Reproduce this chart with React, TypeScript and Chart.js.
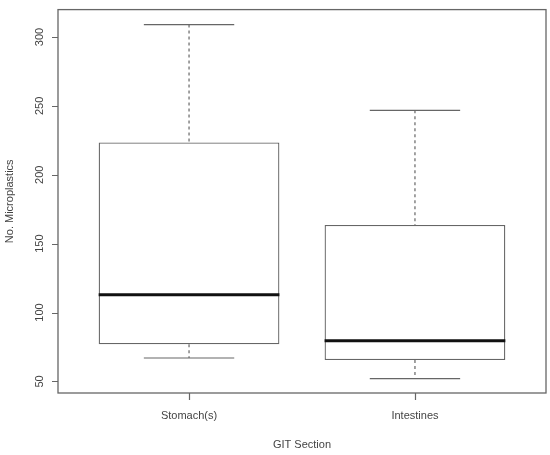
import React, { useEffect, useRef } from "react";
import { Chart, registerables } from "chart.js";

Chart.register(...registerables);

const categories = ["Stomach(s)", "Intestines"];
const whiskerMin = [67, 52];
const q1 = [77, 65.5];
const median = [113, 79.5];
const q3 = [223.5, 163.5];
const whiskerMax = [309, 246.8];
const yTicks = [50, 100, 150, 200, 250, 300];

const FONT = "'Liberation Sans', Arial, sans-serif";
const GREY = "#666666";
const TEXT = "#444444";

const boxPlugin = {
  id: "boxplotExtras",
  afterDatasetsDraw(chart: any) {
    const { ctx } = chart;
    const xs = chart.scales.x;
    const ys = chart.scales.y;
    ctx.save();
    categories.forEach((_, i) => {
      const pos = i + 1;
      const cx = xs.getPixelForValue(pos);
      const capL = xs.getPixelForValue(pos - 0.2);
      const capR = xs.getPixelForValue(pos + 0.2);
      const boxL = xs.getPixelForValue(pos - 0.4);
      const boxR = xs.getPixelForValue(pos + 0.4);
      ctx.strokeStyle = GREY;
      ctx.lineWidth = 1.2;
      ctx.setLineDash([3, 3]);
      ctx.beginPath();
      ctx.moveTo(cx, ys.getPixelForValue(whiskerMax[i]));
      ctx.lineTo(cx, ys.getPixelForValue(q3[i]));
      ctx.moveTo(cx, ys.getPixelForValue(q1[i]));
      ctx.lineTo(cx, ys.getPixelForValue(whiskerMin[i]));
      ctx.stroke();
      ctx.setLineDash([]);
      ctx.beginPath();
      ctx.moveTo(capL, ys.getPixelForValue(whiskerMax[i]));
      ctx.lineTo(capR, ys.getPixelForValue(whiskerMax[i]));
      ctx.moveTo(capL, ys.getPixelForValue(whiskerMin[i]));
      ctx.lineTo(capR, ys.getPixelForValue(whiskerMin[i]));
      ctx.stroke();
      ctx.strokeStyle = "#111111";
      ctx.lineWidth = 3;
      ctx.beginPath();
      ctx.moveTo(boxL, ys.getPixelForValue(median[i]));
      ctx.lineTo(boxR, ys.getPixelForValue(median[i]));
      ctx.stroke();
    });
    ctx.restore();
  },
  afterDraw(chart: any) {
    const { ctx, chartArea } = chart;
    const xs = chart.scales.x;
    const ys = chart.scales.y;
    ctx.save();
    ctx.setLineDash([]);
    ctx.strokeStyle = GREY;
    ctx.lineWidth = 1.3;
    ctx.strokeRect(chartArea.left, chartArea.top, chartArea.right - chartArea.left, chartArea.bottom - chartArea.top);
    ctx.lineWidth = 1.2;
    ctx.beginPath();
    categories.forEach((_, i) => {
      const px = Math.round(xs.getPixelForValue(i + 1)) + 0.5;
      ctx.moveTo(px, chartArea.bottom);
      ctx.lineTo(px, chartArea.bottom + 7);
    });
    yTicks.forEach((v) => {
      const py = Math.round(ys.getPixelForValue(v)) + 0.5;
      ctx.moveTo(chartArea.left, py);
      ctx.lineTo(chartArea.left - 6, py);
    });
    ctx.stroke();
    ctx.restore();
  },
};

export default function App() {
  const ref = useRef<HTMLCanvasElement | null>(null);
  useEffect(() => {
    document.body.style.margin = "0";
    const canvas = ref.current!;
    const chart = new Chart(canvas, {
      type: "bar",
      data: {
        datasets: [
          {
            label: "Box",
            data: categories.map((_, i) => ({ x: i + 1, y: [q1[i], q3[i]] })) as any,
            backgroundColor: "#ffffff",
            borderColor: GREY,
            borderWidth: 1.3,
            borderSkipped: false,
            categoryPercentage: 1,
            barPercentage: 0.8,
          },
        ],
      },
      options: {
        responsive: false,
        animation: false,
        layout: { padding: { top: 7, right: 4, left: 0, bottom: 0 } },
        plugins: { legend: { display: false }, tooltip: { enabled: false } },
        scales: {
          x: {
            type: "linear",
            offset: false,
            min: 0.42,
            max: 2.58,
            afterBuildTicks: (scale: any) => {
              scale.ticks = categories.map((_, i) => ({ value: i + 1 }));
            },
            afterFit: (scale: any) => {
              scale.height = 62;
            },
            grid: { display: false, offset: false, drawOnChartArea: false, drawTicks: true, tickLength: 7 },
            border: { display: false },
            ticks: {
              callback: (v: any) => categories[Math.round(Number(v)) - 1] ?? "",
              color: TEXT,
              font: { family: FONT, size: 11 },
              padding: 9,
              maxRotation: 0,
              autoSkip: false,
            },
            title: {
              display: true,
              text: "GIT Section",
              color: TEXT,
              font: { family: FONT, size: 11 },
              padding: { top: 0, bottom: 3 },
            },
          },
          y: {
            type: "linear",
            min: 41.6,
            max: 319.9,
            afterBuildTicks: (scale: any) => {
              scale.ticks = yTicks.map((v) => ({ value: v }));
            },
            afterFit: (scale: any) => {
              scale.width = 58;
            },
            grid: { display: false, drawOnChartArea: false, drawTicks: true, tickLength: 6 },
            border: { display: false },
            ticks: {
              color: TEXT,
              font: { family: FONT, size: 11 },
              minRotation: 90,
              maxRotation: 90,
              crossAlign: "center",
              padding: 3,
              autoSkip: false,
            },
            title: {
              display: true,
              text: "No. Microplastics",
              color: TEXT,
              font: { family: FONT, size: 11 },
              padding: { top: 3, bottom: 0 },
            },
          },
        },
      },
      plugins: [boxPlugin],
    });
    return () => chart.destroy();
  }, []);
  return <canvas ref={ref} width={550} height={455} style={{ display: "block" }} />;
}
